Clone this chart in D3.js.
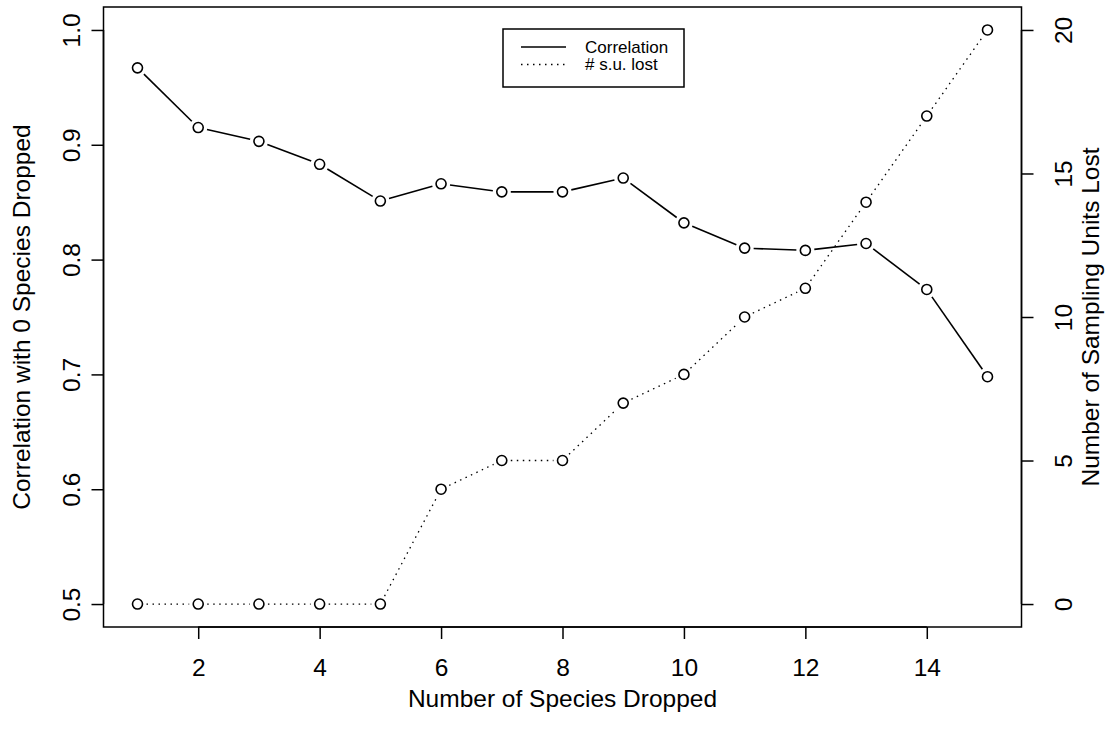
<!DOCTYPE html>
<html>
<head>
<meta charset="utf-8">
<script src="https://cdn.jsdelivr.net/npm/d3@7"></script>
<style>
  html, body { margin: 0; padding: 0; background: #fff; }
  svg { display: block; }
  text { font-family: "Liberation Sans", Arial, Helvetica, sans-serif; fill: #000; }
</style>
</head>
<body>
<svg id="chart" width="1107" height="734"></svg>
<script>
// Number of species dropped (x)
const speciesDropped = [1, 2, 3, 4, 5, 6, 7, 8, 9, 10, 11, 12, 13, 14, 15];
// Correlation with the 0-species-dropped ordination (left axis)
const correlation = [0.967, 0.915, 0.903, 0.883, 0.851, 0.866, 0.859, 0.859, 0.871, 0.832, 0.810, 0.808, 0.814, 0.774, 0.698];
// Number of sampling units lost (right axis)
const unitsLost = [0, 0, 0, 0, 0, 4, 5, 5, 7, 8, 10, 11, 14, 17, 20];

const xTicks = [2, 4, 6, 8, 10, 12, 14];
const yLeftTicks = [0.5, 0.6, 0.7, 0.8, 0.9, 1.0];
const yRightTicks = [0, 5, 10, 15, 20];

const legendLabels = ["Correlation", "# s.u. lost"];
const xTitle = "Number of Species Dropped";
const yLeftTitle = "Correlation with 0 Species Dropped";
const yRightTitle = "Number of Sampling Units Lost";

const svg = d3.select("#chart");
const box = { left: 103.5, right: 1021.5, top: 7, bottom: 627 };
const midY = (box.top + box.bottom) / 2;

// R-style 4% axis padding
function padded(lo, hi) { const d = (hi - lo) * 0.04; return [lo - d, hi + d]; }

const x = d3.scaleLinear().domain(padded(1, 15)).range([box.left, box.right]);
const yL = d3.scaleLinear().domain(padded(0.5, 1.0)).range([box.bottom, box.top]);
const yR = d3.scaleLinear().domain(padded(0, 20)).range([box.bottom, box.top]);

const tickLen = 12;
const axisFont = 24.5;

// Bottom axis
const gx = svg.append("g").attr("transform", `translate(0,${box.bottom})`)
  .call(d3.axisBottom(x).tickValues(xTicks).tickSize(tickLen).tickSizeOuter(0).tickFormat(d3.format("d")));
gx.select(".domain").attr("d", `M${x(2)},0H${x(14)}`);
gx.selectAll(".tick text").attr("y", 40).attr("dy", null).attr("dominant-baseline", "central");

// Left axis, labels rotated parallel to the axis
const gl = svg.append("g").attr("transform", `translate(${box.left},0)`)
  .call(d3.axisLeft(yL).tickValues(yLeftTicks).tickSize(tickLen).tickSizeOuter(0).tickFormat(d3.format(".1f")));
gl.select(".domain").attr("d", `M0,${yL(0.5)}V${yL(1.0)}`);
gl.selectAll(".tick text").attr("x", null).attr("dy", null)
  .attr("transform", "translate(-32,0) rotate(-90)").attr("text-anchor", "middle").attr("dominant-baseline", "central");

// Right axis
const gr = svg.append("g").attr("transform", `translate(${box.right},0)`)
  .call(d3.axisRight(yR).tickValues(yRightTicks).tickSize(tickLen).tickSizeOuter(0).tickFormat(d3.format("d")));
gr.select(".domain").attr("d", `M0,${yR(0)}V${yR(20)}`);
gr.selectAll(".tick text").attr("x", null).attr("dy", null)
  .attr("transform", "translate(42,0) rotate(-90)").attr("text-anchor", "middle").attr("dominant-baseline", "central");

svg.selectAll(".tick line, .domain").attr("stroke", "#000").attr("stroke-width", 1.5);
svg.selectAll(".tick text").attr("font-family", null).attr("font-size", axisFont).attr("fill", "#000");

// Plot frame
svg.append("rect").attr("x", box.left).attr("y", box.top)
  .attr("width", box.right - box.left).attr("height", box.bottom - box.top)
  .attr("fill", "none").attr("stroke", "#000").attr("stroke-width", 1.5);

// Axis titles
svg.append("text").attr("x", (box.left + box.right) / 2).attr("y", 698)
  .attr("text-anchor", "middle").attr("dominant-baseline", "central").attr("font-size", axisFont).text(xTitle);
svg.append("text").attr("transform", `translate(21,${midY}) rotate(-90)`)
  .attr("text-anchor", "middle").attr("dominant-baseline", "central").attr("font-size", axisFont).text(yLeftTitle);
svg.append("text").attr("transform", `translate(1090,${midY}) rotate(-90)`)
  .attr("text-anchor", "middle").attr("dominant-baseline", "central").attr("font-size", axisFont).text(yRightTitle);

// "both" style series: points joined by segments that stop short of each circle
const r = 5;
const gap = 9;
function drawSeries(xs, ys, yScale, dash) {
  const pts = xs.map((d, i) => [x(d), yScale(ys[i])]);
  const segs = d3.pairs(pts).map(([a, b]) => {
    const dx = b[0] - a[0], dy = b[1] - a[1], len = Math.hypot(dx, dy);
    if (len <= 2 * gap) return null;
    const ux = dx / len, uy = dy / len;
    return [a[0] + ux * gap, a[1] + uy * gap, b[0] - ux * gap, b[1] - uy * gap];
  }).filter(Boolean);
  const g = svg.append("g");
  g.selectAll("line").data(segs).join("line")
    .attr("x1", d => d[0]).attr("y1", d => d[1]).attr("x2", d => d[2]).attr("y2", d => d[3])
    .attr("stroke", "#000").attr("stroke-width", dash ? 1.3 : 1.6)
    .attr("stroke-dasharray", dash || null);
  g.selectAll("circle").data(pts).join("circle")
    .attr("cx", d => d[0]).attr("cy", d => d[1]).attr("r", r)
    .attr("fill", "none").attr("stroke", "#000").attr("stroke-width", 1.6);
}
drawSeries(speciesDropped, correlation, yL, null);
drawSeries(speciesDropped, unitsLost, yR, "1.5,4.5");

// Legend
const lg = svg.append("g");
lg.append("rect").attr("x", 503).attr("y", 29).attr("width", 181).attr("height", 58)
  .attr("fill", "#fff").attr("stroke", "#000").attr("stroke-width", 1.5);
[null, "1.5,4.5"].forEach((dash, i) => {
  const yy = 47 + i * 17.5;
  lg.append("line").attr("x1", 521).attr("x2", 566).attr("y1", yy).attr("y2", yy)
    .attr("stroke", "#000").attr("stroke-width", dash ? 1.3 : 1.6).attr("stroke-dasharray", dash);
  lg.append("text").attr("x", 585).attr("y", yy).attr("dominant-baseline", "central")
    .attr("font-size", 17).text(legendLabels[i]);
});
</script>
</body>
</html>
